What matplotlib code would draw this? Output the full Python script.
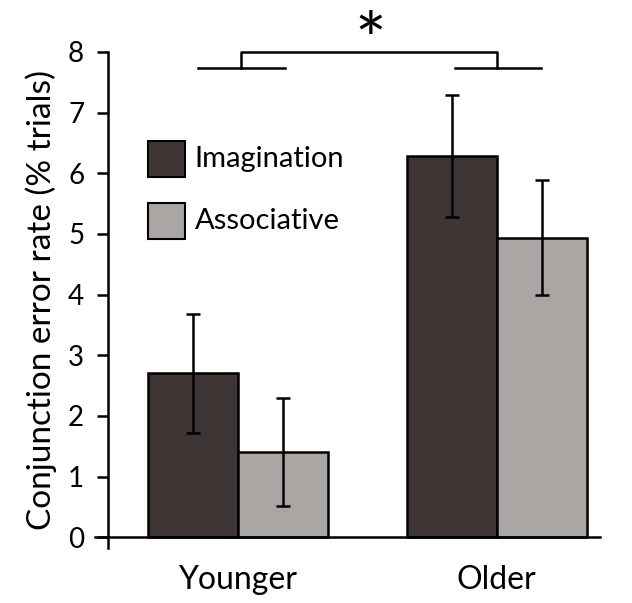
import matplotlib.pyplot as plt
from matplotlib.patches import Rectangle

# data
groups = ['Younger', 'Older']
conditions = ['Imagination', 'Associative']
imagination = [2.7, 6.28]
associative = [1.4, 4.94]
imag_err = [0.98, 1.01]
assoc_err = [0.89, 0.94]

colors = ['#3d3533', '#a9a6a3']
plt.rcParams['font.family'] = ['Lato', 'DejaVu Sans']

fig = plt.figure(figsize=(6.32, 6.03), dpi=100)
ax = fig.add_axes([0.150, 0.091, 0.799, 0.823])

x = [0, 1]
w = 0.347
ebkw = dict(elinewidth=1.8, capsize=5, capthick=1.8, ecolor='black')
ax.bar([i - w / 2 for i in x], imagination, w, color=colors[0], edgecolor='black',
       linewidth=1.8, yerr=imag_err, error_kw=ebkw, zorder=2)
ax.bar([i + w / 2 for i in x], associative, w, color=colors[1], edgecolor='black',
       linewidth=1.8, yerr=assoc_err, error_kw=ebkw, zorder=2)

ax.set_xlim(-0.552, 1.398)
ax.set_ylim(-0.18, 8)
ax.spines['top'].set_visible(False)
ax.spines['right'].set_visible(False)
ax.spines['left'].set_position(('data', -0.502))
ax.spines['bottom'].set_position(('data', 0))
for s in ['left', 'bottom']:
    ax.spines[s].set_linewidth(1.8)
ax.spines['left'].set_bounds(-0.18, 8)

ax.set_yticks(range(0, 9))
ax.tick_params(axis='y', direction='out', length=8, width=1.8, labelsize=20, pad=9)
ax.set_xticks(x)
ax.set_xticklabels(groups, fontsize=23)
ax.tick_params(axis='x', length=0, pad=20)
ax.set_ylabel('Conjunction error rate (% trials)', fontsize=24, labelpad=8)

# legend drawn by hand
leg_y = [5.94, 4.92]
for c, lab, y in zip(colors, conditions, leg_y):
    ax.add_patch(Rectangle((-0.347, y), 0.142, 0.59, facecolor=c,
                           edgecolor='black', linewidth=1.5))
    ax.text(-0.166, y + 0.3, lab, fontsize=21, va='center', ha='left')

# significance bracket
lk = dict(color='black', linewidth=1.8, clip_on=False)
ax.plot([-0.154, 0.181], [7.73, 7.73], **lk)
ax.plot([0.838, 1.17], [7.73, 7.73], **lk)
ax.plot([0.012, 0.012, 1.0, 1.0], [7.73, 8.0, 8.0, 7.73], **lk)
ax.text(0.51, 7.75, '*', fontsize=54, ha='center', va='baseline', clip_on=False)

fig.savefig('out.png', dpi=100)
